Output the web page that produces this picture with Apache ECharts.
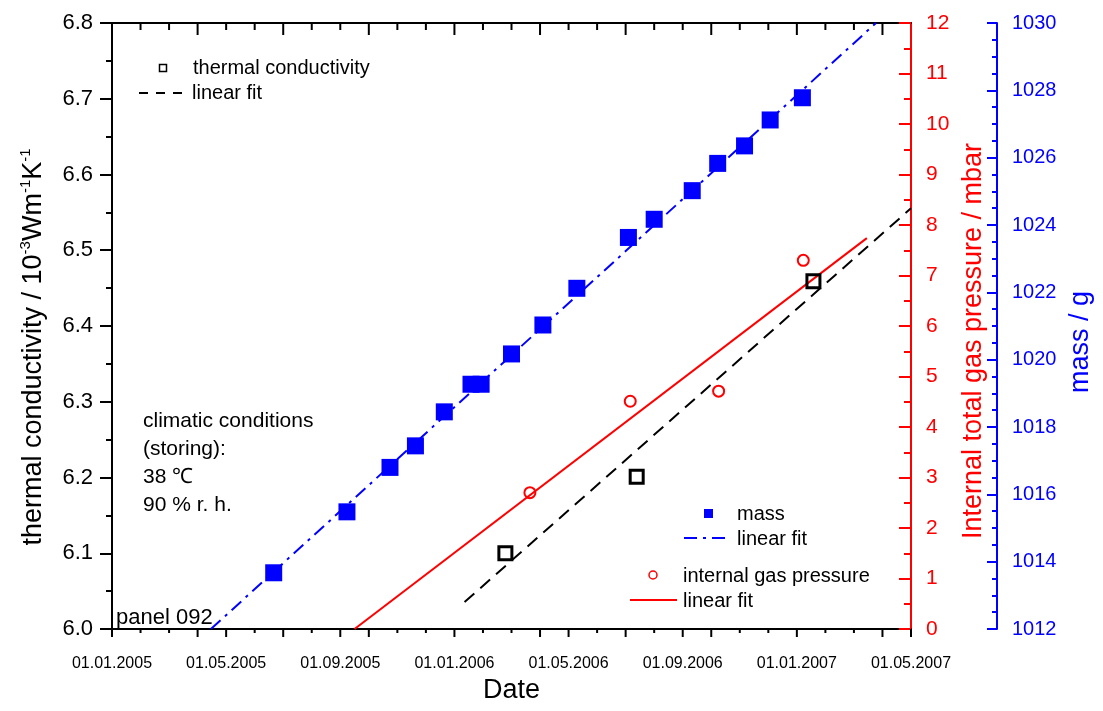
<!DOCTYPE html>
<html>
<head>
<meta charset="utf-8">
<script src="https://cdn.jsdelivr.net/npm/echarts@6/dist/echarts.min.js"></script>
<style>
html,body{margin:0;padding:0;background:#fff;}
#chart{width:1103px;height:711px;}
</style>
</head>
<body>
<div id="chart"></div>
<script>
// ---------------- data ----------------
const xTickLabels = ['01.01.2005','01.05.2005','01.09.2005','01.01.2006','01.05.2006','01.09.2006','01.01.2007','01.05.2007'];

const massDates = ['2005-06-21','2005-09-08','2005-10-24','2005-11-20','2005-12-21','2006-01-19','2006-01-30','2006-03-01','2006-04-04','2006-05-10','2006-07-04','2006-08-01','2006-09-11','2006-10-08','2006-11-06','2006-12-03','2007-01-07'];
const massValues = [1013.67,1015.48,1016.80,1017.44,1018.45,1019.27,1019.27,1020.17,1021.03,1022.12,1023.63,1024.17,1025.02,1025.83,1026.35,1027.12,1027.78];

const tcDates = ['2006-02-23','2006-07-13','2007-01-19'];
const tcValues = [6.100,6.201,6.459];

const pressureDates = ['2006-03-21','2006-07-06','2006-10-09','2007-01-08'];
const pressureValues = [2.70,4.51,4.71,7.30];

const massFitDates = ['2005-04-15','2007-03-25'];
const massFitValues = [1012,1030];
const tcFitDates = ['2006-01-12','2007-05-01'];
const tcFitValues = [6.0356,6.5554];
const pressureFitDates = ['2005-09-16','2007-03-15'];
const pressureFitValues = [0,7.74];

// ---------------- helpers: dates -> months since 01.01.2005 ----------------
function monthsOf(y, m, d){
  const dim = new Date(Date.UTC(y, m, 0)).getUTCDate();
  return (y-2005)*12 + (m-1) + (d-1)/dim;
}
function monthOfIso(s){ const p=s.split('-').map(Number); return monthsOf(p[0],p[1],p[2]); }
function monthOfLabel(s){ const p=s.split('.').map(Number); return monthsOf(p[2],p[1],p[0]); }
function pairs(dates, vals){ return dates.map((d,i)=>[monthOfIso(d), vals[i]]); }

const xLabelMonths = xTickLabels.map(monthOfLabel);
const labelByMonth = {}; xLabelMonths.forEach((m,i)=>{ labelByMonth[m]=xTickLabels[i]; });
const xMin = xLabelMonths[0], xMax = xLabelMonths[xLabelMonths.length-1];

// month tick marks: [month, yRef, topLength, bottomLength]
const monthTickData = [];
for (let i=xMin; i<=xMax; i++){
  const top = i>=xMax ? 0 : (i%3===0 ? 12 : 7);
  const bottom = (i%3===0 || i%4===0) ? 8 : 4;
  monthTickData.push([i, 6.0, top, bottom]);
}

const FONT = "'Liberation Sans', Arial, Helvetica, sans-serif";
const BLUE = '#0000ff', RED = '#ff0000';

const chart = echarts.init(document.getElementById('chart'), null, {renderer:'canvas'});

const option = {
  animation:false,
  backgroundColor:'#fff',
  textStyle:{fontFamily:FONT},
  grid:{left:112, right:192, top:23, bottom:82, containLabel:false},
  xAxis:[
    {
      type:'value', position:'bottom', min:xMin, max:xMax, interval:1,
      name:'Date', nameLocation:'middle', nameGap:47,
      nameTextStyle:{fontSize:27, color:'#000', fontFamily:FONT},
      axisLine:{show:true, onZero:false, lineStyle:{color:'#000', width:2}},
      axisTick:{show:false},
      axisLabel:{show:true, customValues:xLabelMonths, margin:27, fontSize:16, color:'#000', fontFamily:FONT,
        formatter:function(v){ return labelByMonth[v]!==undefined ? labelByMonth[v] : ''; }},
      splitLine:{show:false}, minorTick:{show:false}
    },
    {
      type:'value', position:'top', min:xMin, max:xMax, interval:1,
      axisLine:{show:true, onZero:false, lineStyle:{color:'#000', width:2}},
      axisTick:{show:false}, axisLabel:{show:false}, splitLine:{show:false}, minorTick:{show:false}
    }
  ],
  yAxis:[
    {
      type:'value', position:'left', min:6.0, max:6.8, interval:0.1,
      name:'thermal conductivity / 10{sup|-3}Wm{sup|-1}K{sup|-1}',
      nameLocation:'middle', nameGap:62,
      nameTextStyle:{fontSize:27, color:'#000', fontFamily:FONT, lineHeight:32, padding:[0,42,0,0],
        rich:{sup:{fontSize:15, lineHeight:15, verticalAlign:'top', color:'#000', fontFamily:FONT}}},
      axisLine:{show:true, onZero:false, lineStyle:{color:'#000', width:2}},
      axisTick:{show:true, inside:false, length:12, lineStyle:{color:'#000', width:2}},
      minorTick:{show:true, splitNumber:2, length:6, lineStyle:{color:'#000', width:2}},
      axisLabel:{margin:19, fontSize:22, color:'#000', fontFamily:FONT, formatter:v=>v.toFixed(1)},
      splitLine:{show:false}
    },
    {
      type:'value', position:'right', offset:0, min:0, max:12, interval:1,
      name:'Internal total gas pressure / mbar', nameLocation:'middle', nameGap:33,
      nameTextStyle:{fontSize:27, color:RED, fontFamily:FONT, padding:[0,30,0,0]},
      axisLine:{show:true, onZero:false, lineStyle:{color:RED, width:2}},
      axisTick:{show:true, inside:true, length:12, lineStyle:{color:RED, width:2}},
      minorTick:{show:true, splitNumber:2, length:7, lineStyle:{color:RED, width:2}},
      axisLabel:{margin:15, fontSize:21, color:RED, fontFamily:FONT, formatter:v=>String(v)},
      splitLine:{show:false}
    },
    {
      type:'value', position:'right', offset:86, min:1012, max:1030, interval:2,
      name:'mass / g', nameLocation:'middle', nameGap:68,
      nameTextStyle:{fontSize:27, color:BLUE, fontFamily:FONT, padding:[0,32,0,0]},
      axisLine:{show:true, onZero:false, lineStyle:{color:BLUE, width:2}},
      axisTick:{show:true, inside:true, length:10, lineStyle:{color:BLUE, width:2}},
      minorTick:{show:true, splitNumber:4, length:5, lineStyle:{color:BLUE, width:2}},
      axisLabel:{margin:15, fontSize:20, color:BLUE, fontFamily:FONT, formatter:v=>String(v)},
      splitLine:{show:false}
    }
  ],
  series:[
    // monthly date-axis tick marks (top: inside, bottom: outside), placed through the x scale
    {name:'date ticks', type:'custom', xAxisIndex:0, yAxisIndex:0, data:monthTickData,
      encode:{x:0, y:1}, clip:false, silent:true, z:4,
      renderItem:function(params, api){
        const x = api.coord([api.value(0), api.value(1)])[0];
        const cs = params.coordSys;
        const top = cs.y, bottom = cs.y + cs.height;
        const tl = api.value(2), bl = api.value(3);
        const children = [
          {type:'line', shape:{x1:x, y1:bottom, x2:x, y2:bottom+bl}, style:{stroke:'#000', lineWidth:2}}
        ];
        if (tl > 0) children.push({type:'line', shape:{x1:x, y1:top, x2:x, y2:top+tl}, style:{stroke:'#000', lineWidth:2}});
        return {type:'group', children:children};
      }
    },
    {name:'mass linear fit', type:'line', xAxisIndex:0, yAxisIndex:2, data:pairs(massFitDates, massFitValues),
      symbol:'none', lineStyle:{color:BLUE, width:2, type:[13,6,3,6]}, z:2, silent:true},
    {name:'thermal conductivity linear fit', type:'line', xAxisIndex:0, yAxisIndex:0, data:pairs(tcFitDates, tcFitValues),
      symbol:'none', lineStyle:{color:'#000', width:2, type:[13,8]}, z:2, silent:true},
    {name:'internal gas pressure linear fit', type:'line', xAxisIndex:0, yAxisIndex:1, data:pairs(pressureFitDates, pressureFitValues),
      symbol:'none', lineStyle:{color:RED, width:2, type:'solid'}, z:2, silent:true},
    {name:'mass', type:'scatter', xAxisIndex:0, yAxisIndex:2, data:pairs(massDates, massValues),
      symbol:'rect', symbolSize:17, itemStyle:{color:BLUE, opacity:1}, z:3},
    {name:'thermal conductivity', type:'scatter', xAxisIndex:0, yAxisIndex:0, data:pairs(tcDates, tcValues),
      symbol:'rect', symbolSize:13, itemStyle:{color:'rgba(255,255,255,0)', borderColor:'#000', borderWidth:3, opacity:1}, z:3},
    {name:'internal gas pressure', type:'scatter', xAxisIndex:0, yAxisIndex:1, data:pairs(pressureDates, pressureValues),
      symbol:'circle', symbolSize:11, itemStyle:{color:'rgba(255,255,255,0)', borderColor:RED, borderWidth:2, opacity:1}, z:3}
  ],
  graphic:[
    // legend 1 (top left)
    {type:'rect', shape:{x:159.5, y:64.5, width:7, height:7}, style:{fill:'none', stroke:'#000', lineWidth:1.5}, z:10},
    {type:'text', x:193, y:68, style:{text:'thermal conductivity', font:"20px 'Liberation Sans', Arial, sans-serif", fill:'#000', verticalAlign:'middle'}, z:10},
    {type:'line', shape:{x1:139, y1:93, x2:186, y2:93}, style:{stroke:'#000', lineWidth:2, lineDash:[9,8]}, z:10},
    {type:'text', x:192, y:93, style:{text:'linear fit', font:"20px 'Liberation Sans', Arial, sans-serif", fill:'#000', verticalAlign:'middle'}, z:10},
    // legend 2 (mass)
    {type:'rect', shape:{x:704, y:509, width:9, height:9}, style:{fill:BLUE}, z:10},
    {type:'text', x:737, y:514, style:{text:'mass', font:"20px 'Liberation Sans', Arial, sans-serif", fill:'#000', verticalAlign:'middle'}, z:10},
    {type:'line', shape:{x1:684, y1:538, x2:731, y2:538}, style:{stroke:BLUE, lineWidth:2, lineDash:[13,6,3,6]}, z:10},
    {type:'text', x:737, y:539, style:{text:'linear fit', font:"20px 'Liberation Sans', Arial, sans-serif", fill:'#000', verticalAlign:'middle'}, z:10},
    // legend 3 (pressure)
    {type:'circle', shape:{cx:653, cy:575, r:4}, style:{fill:'none', stroke:RED, lineWidth:1.5}, z:10},
    {type:'text', x:683, y:576, style:{text:'internal gas pressure', font:"20px 'Liberation Sans', Arial, sans-serif", fill:'#000', verticalAlign:'middle'}, z:10},
    {type:'line', shape:{x1:630, y1:600, x2:677, y2:600}, style:{stroke:RED, lineWidth:2}, z:10},
    {type:'text', x:683, y:601, style:{text:'linear fit', font:"20px 'Liberation Sans', Arial, sans-serif", fill:'#000', verticalAlign:'middle'}, z:10},
    // annotations
    {type:'text', x:143, y:407, style:{text:'climatic conditions\n(storing):\n38 \u2103\n90 % r. h.', font:"21px 'Liberation Sans', Arial, sans-serif", lineHeight:28, fill:'#000', verticalAlign:'top'}, z:10},
    {type:'text', x:116, y:629, style:{text:'panel 092', font:"22px 'Liberation Sans', Arial, sans-serif", fill:'#000', verticalAlign:'bottom'}, z:10}
  ]
};
chart.setOption(option);
</script>
</body>
</html>
